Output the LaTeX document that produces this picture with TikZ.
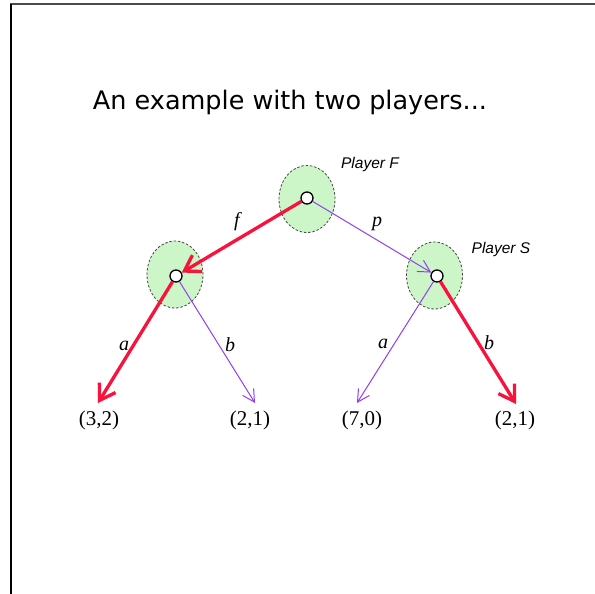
\documentclass[tikz,border=0pt]{standalone}
\usepackage{fontspec}
\setmainfont{Liberation Serif}
\newfontfamily\titlefont{DejaVu Sans}
\newfontfamily\playerfont{Liberation Sans}
\usetikzlibrary{arrows.meta,shapes.geometric}

\definecolor{movered}{RGB}{250,18,60}
\definecolor{movepurple}{RGB}{150,60,240}
\definecolor{infoset}{RGB}{204,246,200}
\definecolor{infoline}{RGB}{70,70,70}

\tikzset{
  infobox/.style={ellipse, draw=infoline, dashed, dash pattern=on 2.5pt off 1.8pt,
    line width=0.8pt, fill=infoset, minimum width=56pt, minimum height=67pt, inner sep=0pt},
  decision/.style={circle, draw=black, line width=1.3pt, fill=white,
    minimum size=12pt, inner sep=0pt},
  chosen/.style={draw=movered, line width=3.3pt,
    -{Straight Barb[length=15pt,width=19pt]}},
  other/.style={draw=movepurple, line width=1pt,
    -{Straight Barb[length=12pt,width=13pt]}},
  movelabel/.style={font=\fontsize{20}{22}\selectfont\itshape, inner sep=0pt},
  payoff/.style={font=\fontsize{21}{23}\selectfont, inner sep=0pt},
  playerlabel/.style={font=\fontsize{15.5}{17}\selectfont\playerfont\itshape, inner sep=0pt}
}

\begin{document}
\begin{tikzpicture}[x=1pt,y=-1pt]
\useasboundingbox (0,0) rectangle (595,594);
\fill[white] (0,0) rectangle (595,594);

% slide frame
\draw[gray!60!black, line width=1.5pt] (10,4) -- (595,4);
\draw[black, line width=1.2pt] (11,4) -- (11,594);

% title
\node[anchor=base, inner sep=0pt, font=\fontsize{25.5}{30}\selectfont\titlefont] (title)
  at (290,110) {An example with two players...};

% information sets
\node[infobox] (setF) at (307,199) {};
\node[infobox] (setL) at (175,274.5) {};
\node[infobox] (setR) at (434.5,275.5) {};

\node[playerlabel] (labF) at (370,164) {Player F};
\node[playerlabel] (labS) at (501,249) {Player S};

% decision nodes
\node[decision] (F) at (307,198) {};
\node[decision] (SL) at (176,276) {};
\node[decision] (SR) at (437,276) {};

% payoffs and the points the moves lead to
\node[payoff] (o1) at (99,420) {(3,2)};
\node[payoff] (o2) at (250,420) {(2,1)};
\node[payoff] (o3) at (362,420) {(7,0)};
\node[payoff] (o4) at (515,420) {(2,1)};
\coordinate (t1) at (98,403);
\coordinate (t2) at (255,403);
\coordinate (t3) at (357,403);
\coordinate (t4) at (516,404);

% moves
\draw[other] (F) -- (SR);
\draw[chosen] (F) -- (SL);
\draw[chosen] (SL) -- (t1);
\draw[other] (SL) -- (t2);
\draw[other] (SR) -- (t3);
\draw[chosen] (SR) -- (t4);

\node[movelabel] (mf) at (237,222) {f};
\node[movelabel] (mp) at (377,224) {p};
\node[movelabel] (ma1) at (124,346) {a};
\node[movelabel] (mb1) at (230,345) {b};
\node[movelabel] (ma2) at (383,344) {a};
\node[movelabel] (mb2) at (489,343) {b};
\end{tikzpicture}
\end{document}
